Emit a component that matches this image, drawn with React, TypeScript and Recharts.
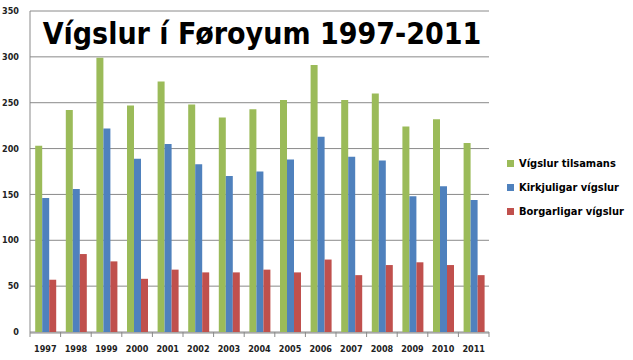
import { BarChart, Bar, XAxis, YAxis, CartesianGrid } from "recharts";

const years = ["1997", "1998", "1999", "2000", "2001", "2002", "2003", "2004", "2005", "2006", "2007", "2008", "2009", "2010", "2011"];
const tilsamans = [203, 242, 299, 247, 273, 248, 234, 243, 253, 291, 253, 260, 224, 232, 206];
const kirkjuligar = [146, 156, 222, 189, 205, 183, 170, 175, 188, 213, 191, 187, 148, 159, 144];
const borgarligar = [57, 85, 77, 58, 68, 65, 65, 68, 65, 79, 62, 73, 76, 73, 62];
const yTicks = [0, 50, 100, 150, 200, 250, 300, 350];
// band boundaries for the small tick marks under the x axis
const boundaryTicks = years.map((_, i) => i).concat(years.length);

const series = [
  { key: "tilsamans", name: "Vígslur tilsamans", color: "#9BBB59" },
  { key: "kirkjuligar", name: "Kirkjuligar vígslur", color: "#4F81BD" },
  { key: "borgarligar", name: "Borgarligar vígslur", color: "#C0504D" },
];

const data = years.map((year, i) => ({
  year,
  idx: i + 0.5,
  tilsamans: tilsamans[i],
  kirkjuligar: kirkjuligar[i],
  borgarligar: borgarligar[i],
}));

const font = "'DejaVu Sans Condensed', 'DejaVu Sans', sans-serif";
const tickStyle = { fontSize: 9, fill: "#222", fontFamily: font, fontWeight: 700 };

export default function App() {
  return (
    <div style={{ position: "absolute", left: 0, top: 0, width: 633, height: 360, background: "#fff" }}>
      <BarChart
        width={633}
        height={360}
        data={data}
        margin={{ top: 11, right: 144, bottom: 0, left: 0 }}
        barCategoryGap="17%"
        barGap={0}
      >
        <CartesianGrid vertical={false} stroke="#8a8a8a" xAxisId="b_cat" />
        <XAxis
          xAxisId="a_marks"
          dataKey="idx"
          type="number"
          domain={[0, years.length]}
          allowDataOverflow
          ticks={boundaryTicks}
          tickFormatter={() => ""}
          tickSize={5}
          tickLine={{ stroke: "#8a8a8a" }}
          axisLine={false}
          height={1}
        />
        <XAxis
          xAxisId="b_cat"
          dataKey="year"
          tick={tickStyle}
          tickLine={false}
          axisLine={{ stroke: "#8a8a8a" }}
          tickMargin={7}
          height={27}
        />
        <YAxis
          width={30}
          domain={[0, 350]}
          ticks={yTicks}
          tick={tickStyle}
          tickLine={false}
          axisLine={{ stroke: "#8a8a8a" }}
          tickMargin={5}
        />
        {series.map((s) => (
          <Bar key={s.key} xAxisId="b_cat" dataKey={s.key} name={s.name} fill={s.color} isAnimationActive={false} />
        ))}
      </BarChart>
      <div
        style={{
          position: "absolute",
          left: 36,
          top: 15,
          width: 452,
          height: 38,
          textAlign: "center",
          whiteSpace: "nowrap",
          fontFamily: font,
          fontWeight: 700,
          fontSize: 30,
          lineHeight: "38px",
          background: "#fff",
          color: "#000",
        }}
      >
        Vígslur í Føroyum 1997-2011
      </div>
      <div style={{ position: "absolute", left: 507, top: 151, fontFamily: font, fontSize: 11, fontWeight: 700, whiteSpace: "nowrap" }}>
        {series.map((s) => (
          <div key={s.key} style={{ display: "flex", alignItems: "center", height: 24 }}>
            <span style={{ width: 7, height: 7, background: s.color, marginRight: 5, display: "inline-block" }} />
            {s.name}
          </div>
        ))}
      </div>
    </div>
  );
}
